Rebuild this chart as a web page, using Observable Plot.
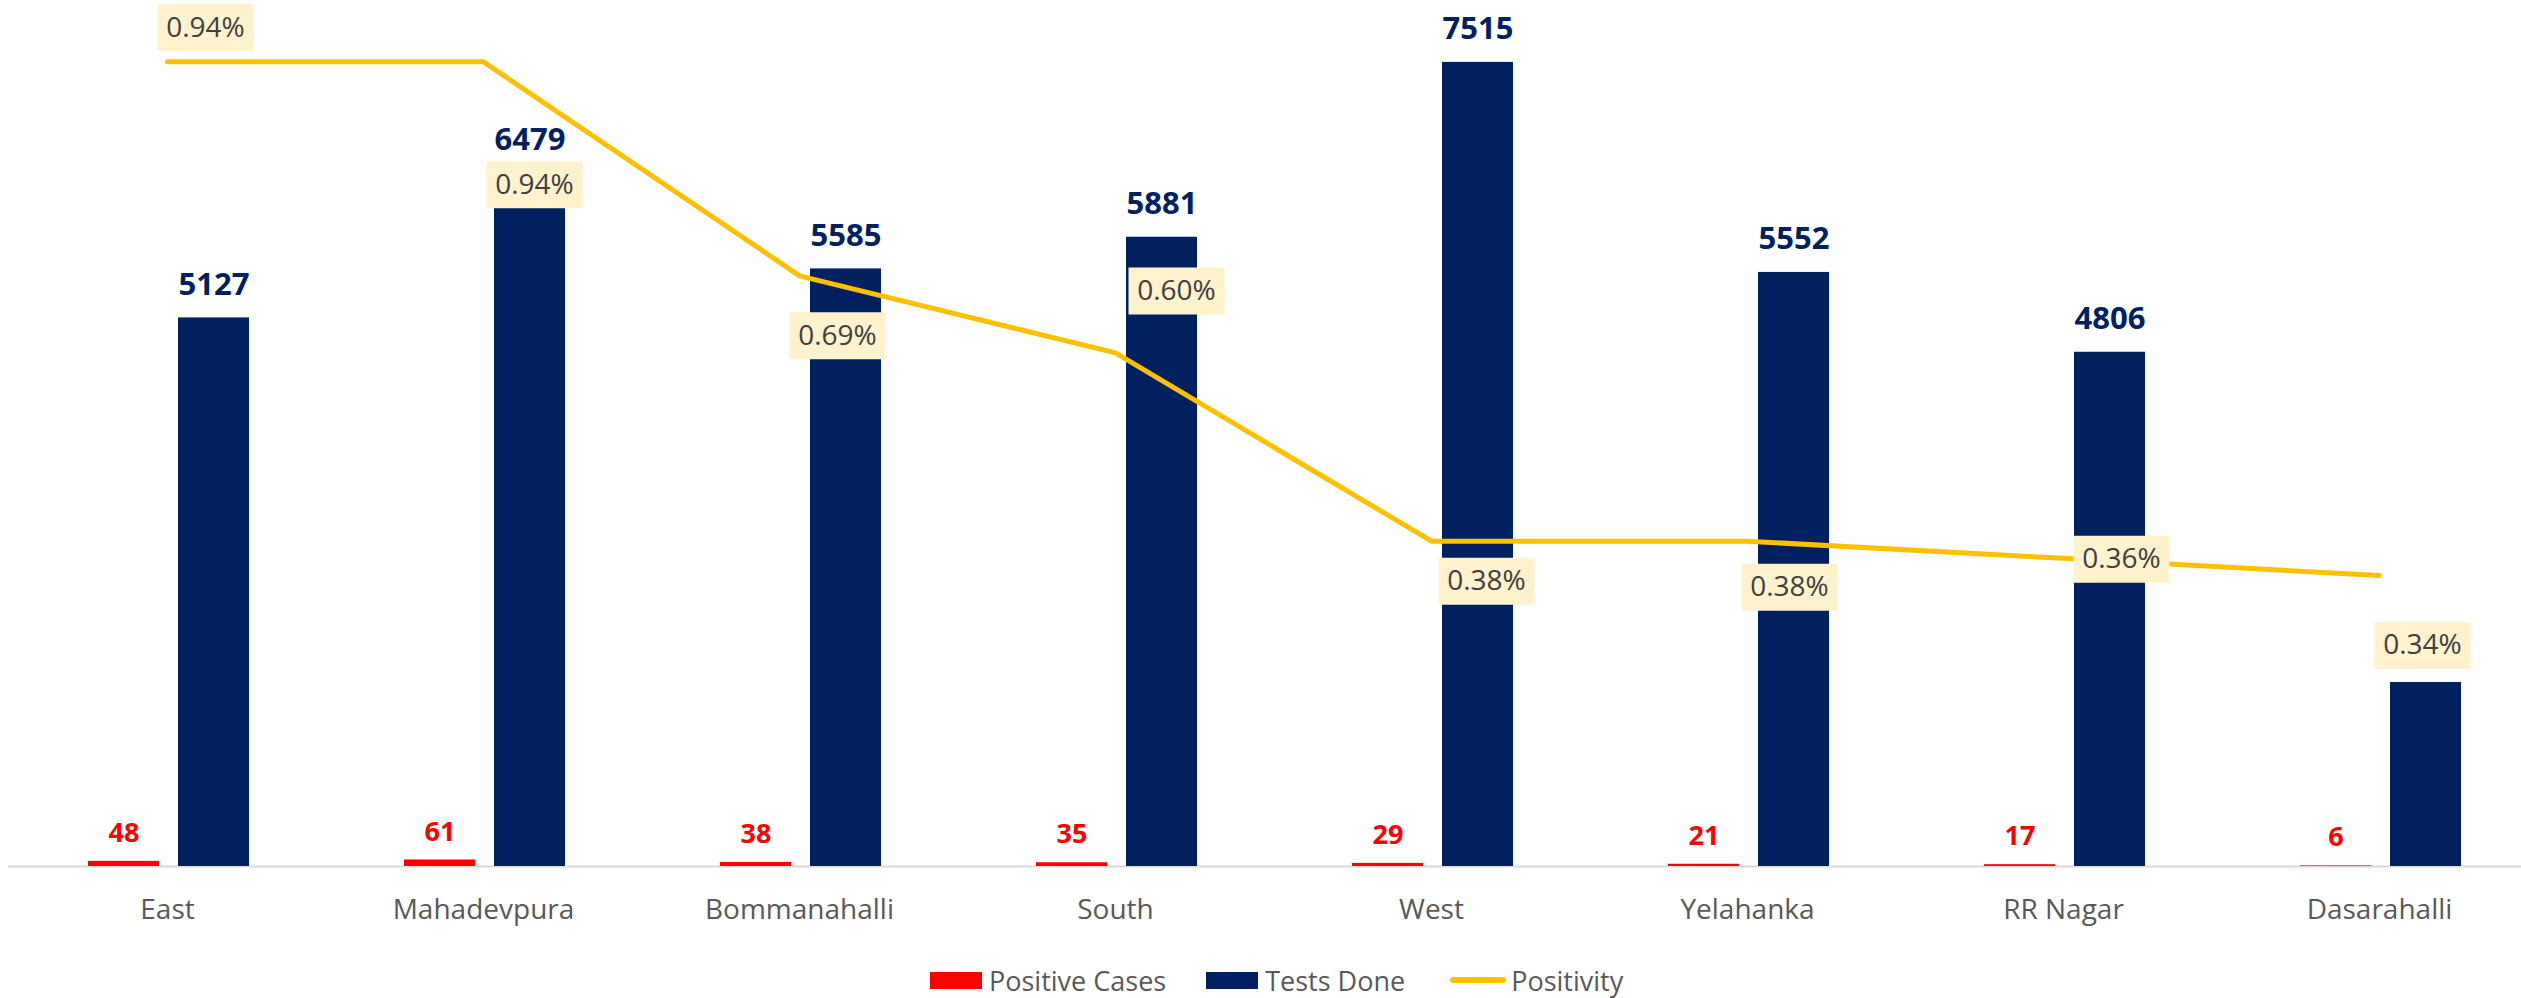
<!DOCTYPE html>
<html>
<head>
<meta charset="utf-8">
<script src="https://cdn.jsdelivr.net/npm/d3@7"></script>
<script src="https://cdn.jsdelivr.net/npm/@observablehq/plot@0.6"></script>
<style>
  html, body { margin: 0; padding: 0; background: #ffffff; }
  body { width: 2521px; height: 998px; overflow: hidden; position: relative; font-family: "Open Sans", sans-serif; }
  #chart { position: absolute; left: 0; top: 0; }
  #legend { position: absolute; left: 930px; top: 962px; height: 36px; display: flex; align-items: center;
            font-size: 27px; color: #595959; font-family: "Open Sans", sans-serif; white-space: nowrap; }
  .item { display: flex; align-items: center; }
  .sw { display: inline-block; width: 52px; height: 17px; margin-right: 7px; }
  .ln { display: inline-block; width: 56px; height: 6px; border-radius: 3px; margin-right: 5px; }
</style>
</head>
<body>
<div id="chart"></div>
<div id="legend"></div>
<script>
// ---- data ----
const districts = ["East", "Mahadevpura", "Bommanahalli", "South", "West", "Yelahanka", "RR Nagar", "Dasarahalli"];
const positiveCases = [48, 61, 38, 35, 29, 21, 17, 6];
const testsDone = [5127, 6479, 5585, 5881, 7515, 5552, 4806, 1720];
const testsLabelShown = [true, true, true, true, true, true, true, false];
const positivity = [0.94, 0.94, 0.69, 0.60, 0.38, 0.38, 0.36, 0.34]; // percent
const positivityLabels = ["0.94%", "0.94%", "0.69%", "0.60%", "0.38%", "0.38%", "0.36%", "0.34%"];
const seriesNames = ["Positive Cases", "Tests Done", "Positivity"];

// ---- layout (label offsets in pixels, from the line point) ----
const labelDx = [38, 51, 38, 61, 55, 42, 58, 43];
const labelDy = [-34, 123, 60, -62, 40, 46, 1, 70];

const colors = { cases: "#FF0000", tests: "#002060", line: "#FFC000" };
const secondaryScale = 8000; // right axis: 1% sits at the same height as 8000 on the left axis

const rows = districts.map((d, i) => ({
  district: d,
  cases: positiveCases[i],
  tests: testsDone[i],
  showTests: testsLabelShown[i],
  pos: positivity[i],
  posLabel: positivityLabels[i]
}));

const W = 2521, H = 950, baseY = 866;
const boxSymbol = { draw(ctx) { ctx.rect(-48, -23.5, 96, 47); } };
const posY = d => d.pos * secondaryScale;

const labelMarks = rows.flatMap((d, i) => [
  Plot.dot([d], { x: "district", y: posY, symbol: boxSymbol, fill: "#FFF2CC", dx: labelDx[i], dy: labelDy[i] }),
  Plot.text([d], { x: "district", y: posY, text: "posLabel", dx: labelDx[i], dy: labelDy[i],
                   fill: "#404040", fontSize: 28, textAnchor: "middle" })
]);

const chart = Plot.plot({
  width: W,
  height: H,
  marginTop: 10,
  marginBottom: H - baseY,
  marginLeft: 8,
  marginRight: 0,
  style: { fontFamily: "Open Sans", background: "#ffffff", overflow: "visible" },
  x: { type: "band", domain: districts, range: [8, 2538], padding: 0 },
  y: { domain: [0, 8000], axis: null },
  marks: [
    Plot.ruleY([0], { stroke: "#D9D9D9", strokeWidth: 2 }),
    Plot.barY(rows, { x: "district", y: "cases", fill: colors.cases, insetLeft: 79, insetRight: 166 }),
    Plot.barY(rows, { x: "district", y: "tests", fill: colors.tests, insetLeft: 169, insetRight: 76 }),
    Plot.line(rows, { x: "district", y: posY, stroke: colors.line, strokeWidth: 5,
                      strokeLinecap: "round", strokeLinejoin: "round" }),
    Plot.text(rows, { x: "district", y: "cases", text: d => String(d.cases), dx: -43.5, dy: -28,
                      fill: colors.cases, fontWeight: "bold", fontSize: 27 }),
    Plot.text(rows.filter(d => d.showTests), { x: "district", y: "tests", text: d => String(d.tests),
                      dx: 46.5, dy: -33, fill: colors.tests, fontWeight: "bold", fontSize: 31 }),
    ...labelMarks,
    Plot.axisX({ tickSize: 0, tickPadding: 33, fontSize: 28, fill: "#595959", label: null })
  ]
});
document.getElementById("chart").appendChild(chart);

// ---- legend ----
const legend = document.getElementById("legend");
const legendItems = [
  { name: seriesNames[0], color: colors.cases, kind: "sw", gap: 40 },
  { name: seriesNames[1], color: colors.tests, kind: "sw", gap: 45 },
  { name: seriesNames[2], color: colors.line, kind: "ln", gap: 0 }
];
legendItems.forEach(it => {
  const item = document.createElement("div");
  item.className = "item";
  item.style.marginRight = it.gap + "px";
  const s = document.createElement("span");
  s.className = it.kind;
  s.style.background = it.color;
  item.appendChild(s);
  item.appendChild(document.createTextNode(it.name));
  legend.appendChild(item);
});
</script>
</body>
</html>
